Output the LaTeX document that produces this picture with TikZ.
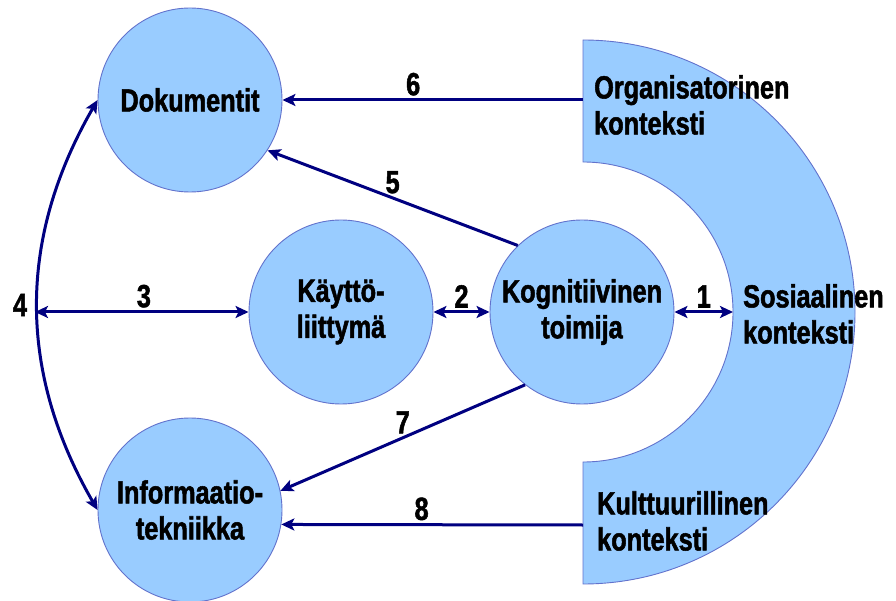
\documentclass[tikz,border=0pt]{standalone}
\usepackage{fontspec}
\setmainfont{Liberation Sans}[FakeStretch=0.79, FakeBold=1.6]
\usepackage{tikz}
\usetikzlibrary{arrows.meta}
\usetikzlibrary{positioning}

\definecolor{pale}{HTML}{99CCFF}
\definecolor{rim}{HTML}{6272CC}
\definecolor{navy}{HTML}{000080}

\tikzset{
    ympyra/.style={circle, draw=rim, line width=0.9pt, fill=pale,
        minimum size=184pt, inner sep=0pt, align=center,
        font=\fontsize{32}{36}\selectfont\bfseries},
    teksti/.style={anchor=west, align=left, inner sep=0pt,
        font=\fontsize{32}{36}\selectfont\bfseries},
    nuoli/.style={navy, line width=3pt,
        -{Stealth[length=13pt,width=12pt,inset=3pt]}},
    kaksi/.style={navy, line width=3pt,
        {Stealth[length=13pt,width=12pt,inset=3pt]}-{Stealth[length=13pt,width=12pt,inset=3pt]}},
    numero/.style={black, inner sep=3pt,
        font=\fontsize{32}{36}\selectfont\bfseries}
}

\begin{document}
\begin{tikzpicture}[x=1pt,y=1pt]
    \useasboundingbox (0,0) rectangle (896,600);

    % sosiaalinen konteksti (puolirengas)
    \draw[rim, line width=0.9pt, fill=pale]
        (583,560) arc[start angle=90, end angle=-90, radius=272]
        -- (583,138) arc[start angle=-90, end angle=90, radius=150] -- cycle;
    \coordinate (org) at (583,500);
    \coordinate (kult) at (583,75);
    \coordinate (sos) at (733,288);
    \coordinate (vasen) at (35,288);

    \node[teksti] (orgteksti) at (594,495) {Organisatorinen\\konteksti};
    \node[teksti] (sosteksti) at (743,286) {Sosiaalinen\\konteksti};
    \node[teksti] (kultteksti) at (597,79) {Kulttuurillinen\\konteksti};

    % ympyrat
    \node[ympyra] (dok) at (190,500) {Dokumentit};
    \node[ympyra] (kay) at (341,288) {Käyttö-\\liittymä};
    \node[ympyra] (kog) at (582,288) {Kognitiivinen\\toimija};
    \node[ympyra] (info) at (190,90) {Informaatio-\\tekniikka};

    % yhteydet
    \draw[kaksi] (kog) -- node[numero, above] (n1) {1} (sos);
    \draw[kaksi] (kay) -- node[numero, above] (n2) {2} (kog);
    \draw[kaksi] (vasen) -- node[numero, above, pos=0.51] (n3) {3} (kay);
    \draw[kaksi] (dok.west) to[bend right=30]
        node[numero, left=6pt] (n4) {4} (info.west);
    \draw[nuoli] (kog.134) -- node[numero, above] (n5) {5} (dok.-33);
    \draw[nuoli] (org) -- node[numero, above, pos=0.565] (n6) {6} (dok);
    \draw[nuoli] (kog.-128) -- node[numero, above] (n7) {7} (info.12);
    \draw[nuoli] (kult) -- node[numero, above, pos=0.535] (n8) {8} (info.-9.5);
\end{tikzpicture}
\end{document}
